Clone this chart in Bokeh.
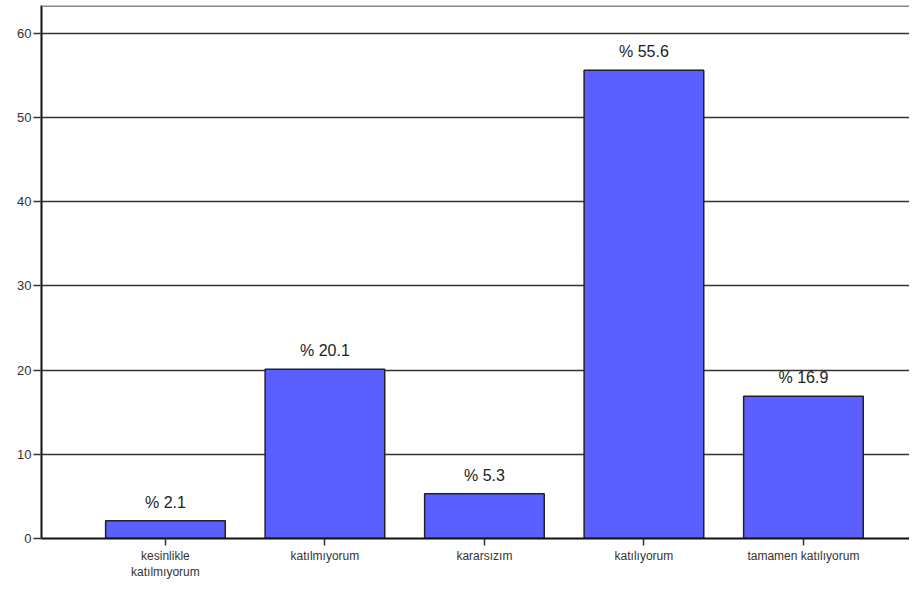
from bokeh.plotting import figure
from bokeh.models import Range1d, FixedTicker, Span, ColumnDataSource, LabelSet
from bokeh.core.properties import value
from bokeh.embed import file_html
from bokeh.resources import INLINE

categories = ["kesinlikle\nkatılmıyorum", "katılmıyorum", "kararsızım", "katılıyorum", "tamamen katılıyorum"]
values = [2.1, 20.1, 5.3, 55.6, 16.9]
labels = ["% 2.1", "% 20.1", "% 5.3", "% 55.6", "% 16.9"]
y_ticks = [0, 10, 20, 30, 40, 50, 60]

xs = list(range(len(categories)))
src = ColumnDataSource(dict(x=xs, top=values, lab=labels))

p = figure(width=909, height=584, output_backend="svg", toolbar_location=None,
           x_range=Range1d(-0.777, 4.665), y_range=Range1d(0, 63.3),
           min_border_left=41, min_border_top=5, min_border_right=0, min_border_bottom=46)
p.outline_line_color = None
p.background_fill_color = "white"

p.vbar(x="x", top="top", width=0.75, source=src, fill_color="#5b5fff",
       line_color="#222222", line_width=1.5)

p.add_layout(Span(location=63.3, dimension="width", line_color="#888888", line_width=3))

lab = LabelSet(x="x", y="top", text="lab", source=src, text_align="center",
               text_baseline="bottom", y_offset=10, text_font=value("Liberation Sans"),
               text_font_size="16px", text_color="#222222")
p.add_layout(lab)

p.xgrid.grid_line_color = None
p.ygrid.ticker = FixedTicker(ticks=y_ticks)
p.ygrid.grid_line_color = "#333333"
p.ygrid.grid_line_width = 1.5

p.yaxis.ticker = FixedTicker(ticks=y_ticks)
p.xaxis.ticker = FixedTicker(ticks=xs)
p.xaxis.major_label_overrides = {i: c for i, c in enumerate(categories)}
for ax in (p.xaxis, p.yaxis):
    ax.axis_line_color = "#111111"
    ax.axis_line_width = 2
    ax.major_tick_line_color = "#333333"
    ax.major_tick_line_width = 1.5
    ax.minor_tick_line_color = None
    ax.major_tick_in = 0
    ax.major_label_text_font = "Liberation Sans"
    ax.major_label_text_color = "#333333"
p.xaxis.major_label_text_font_size = "12px"
p.yaxis.major_label_text_font_size = "13px"
p.yaxis.major_tick_out = 8
p.xaxis.major_tick_out = 7
p.xaxis.major_label_standoff = 3
p.yaxis.major_label_standoff = 2

open("out.html", "w").write(file_html(p, INLINE))
